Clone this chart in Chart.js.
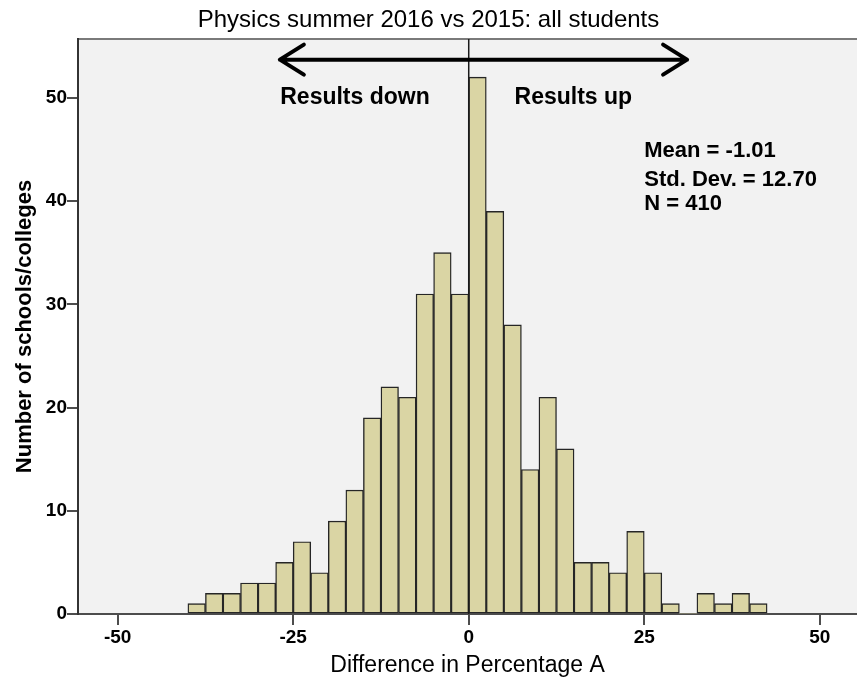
<!DOCTYPE html>
<html>
<head>
<meta charset="utf-8">
<title>Physics summer 2016 vs 2015</title>
<script src="https://cdn.jsdelivr.net/npm/chart.js@4/dist/chart.umd.min.js"></script>
<style>
    html, body { margin: 0; padding: 0; background: #ffffff; }
    #wrap { width: 857px; height: 687px; position: relative; }
</style>
</head>
<body>
<div id="wrap"><canvas id="hist"></canvas></div>
<script>
// histogram bins (left edge of each 2.5 wide bin) and counts
const BIN_WIDTH = 2.5;
const binStarts = [-40, -37.5, -35, -32.5, -30, -27.5, -25, -22.5, -20, -17.5, -15, -12.5, -10, -7.5, -5, -2.5,
    0, 2.5, 5, 7.5, 10, 12.5, 15, 17.5, 20, 22.5, 25, 27.5, 30, 32.5, 35, 37.5, 40];
const counts = [1, 2, 2, 3, 3, 5, 7, 4, 9, 12, 19, 22, 21, 31, 35, 31,
    52, 39, 28, 14, 21, 16, 5, 5, 4, 8, 4, 1, 0, 2, 1, 2, 1];

const xTicks = [-50, -25, 0, 25, 50];
const yTicks = [0, 10, 20, 30, 40, 50];

const statsLines = ["Mean = -1.01", "Std. Dev. = 12.70", "N = 410"];

const FONT = "'Liberation Sans', Arial, Helvetica, sans-serif";

document.addEventListener("DOMContentLoaded", () => {
    const canvas = document.getElementById("hist");

    const points = binStarts.map((start, i) => ({ x: start + BIN_WIDTH / 2, y: counts[i] }));

    // grey plot background + top frame line
    const plotBackground = {
        id: "plotBackground",
        beforeDraw(chart) {
            const { ctx, chartArea: a } = chart;
            ctx.save();
            ctx.fillStyle = "#f2f2f2";
            ctx.fillRect(a.left, a.top, a.right - a.left, a.bottom - a.top);
            ctx.strokeStyle = "#7a7a7a";
            ctx.lineWidth = 2;
            ctx.beginPath();
            ctx.moveTo(a.left, a.top);
            ctx.lineTo(a.right, a.top);
            ctx.stroke();
            ctx.restore();
        }
    };

    // zero line, arrow and text notes
    const notes = {
        id: "notes",
        afterDatasetsDraw(chart) {
            const { ctx, chartArea: a, scales: { x, y } } = chart;
            ctx.save();

            const x0 = x.getPixelForValue(0);
            ctx.strokeStyle = "#1a1a1a";
            ctx.lineWidth = 1.5;
            ctx.beginPath();
            ctx.moveTo(x0, a.top);
            ctx.lineTo(x0, a.bottom);
            ctx.stroke();

            // double headed arrow
            const ay = y.getPixelForValue(53.7);
            const xl = x.getPixelForValue(-26.9);
            const xr = x.getPixelForValue(31.1);
            ctx.strokeStyle = "#000";
            ctx.lineWidth = 4;
            ctx.lineCap = "round";
            ctx.lineJoin = "round";
            ctx.beginPath();
            ctx.moveTo(xl, ay);
            ctx.lineTo(xr, ay);
            ctx.moveTo(xl + 24, ay - 15);
            ctx.lineTo(xl, ay);
            ctx.lineTo(xl + 24, ay + 15);
            ctx.moveTo(xr - 24, ay - 15);
            ctx.lineTo(xr, ay);
            ctx.lineTo(xr - 24, ay + 15);
            ctx.stroke();

            ctx.fillStyle = "#000";
            ctx.font = `bold 23px ${FONT}`;
            ctx.textAlign = "center";
            ctx.textBaseline = "middle";
            ctx.fillText("Results down", x.getPixelForValue(-16.2), y.getPixelForValue(50));
            ctx.fillText("Results up", x.getPixelForValue(14.9), y.getPixelForValue(50));

            ctx.font = `bold 22px ${FONT}`;
            ctx.textAlign = "left";
            const statY = [44.86, 42.05, 39.68];
            statsLines.forEach((line, i) => {
                ctx.fillText(line, x.getPixelForValue(25), y.getPixelForValue(statY[i]));
            });

            ctx.restore();
        }
    };

    new Chart(canvas, {
        type: "bar",
        data: {
            datasets: [{
                label: "Number of schools/colleges",
                data: points,
                backgroundColor: "#dad5a4",
                borderColor: "#262626",
                borderWidth: ctx => (ctx.raw && ctx.raw.y ? 1.4 : 0),
                borderSkipped: false,
                barPercentage: 1,
                categoryPercentage: 1
            }]
        },
        options: {
            responsive: true,
            maintainAspectRatio: false,
            animation: false,
            layout: { padding: { top: 0, right: 0, bottom: 0, left: 0 } },
            plugins: {
                legend: { display: false },
                tooltip: { enabled: false },
                title: {
                    display: true,
                    text: "Physics summer 2016 vs 2015: all students",
                    color: "#000",
                    font: { family: FONT, size: 24, weight: "normal" },
                    padding: { top: 6, bottom: 4.2 }
                }
            },
            scales: {
                x: {
                    type: "linear",
                    offset: false,
                    min: -55.65,
                    max: 55.3,
                    afterBuildTicks: scale => { scale.ticks = xTicks.map(v => ({ value: v })); },
                    afterFit: scale => { scale.height = 73; },
                    grid: { display: true, offset: false, drawOnChartArea: false, drawTicks: true, tickLength: 11, color: "#4d4d4d", lineWidth: 2 },
                    border: { display: true, color: "#4d4d4d", width: 2 },
                    ticks: {
                        color: "#000",
                        padding: 1,
                        maxRotation: 0,
                        autoSkip: false,
                        font: { family: FONT, size: 19, weight: "bold" },
                        callback: v => String(v)
                    },
                    title: {
                        display: true,
                        text: "Difference in Percentage A",
                        color: "#000",
                        font: { family: FONT, size: 23, weight: "normal" },
                        padding: { top: 0, bottom: 8 }
                    }
                },
                y: {
                    min: 0,
                    max: 55.7,
                    afterBuildTicks: scale => { scale.ticks = yTicks.map(v => ({ value: v })); },
                    afterFit: scale => { scale.width = 78; },
                    grid: { display: true, drawOnChartArea: false, drawTicks: true, tickLength: 11, color: "#4d4d4d", lineWidth: 2 },
                    border: { display: true, color: "#333333", width: 2 },
                    ticks: {
                        color: "#000",
                        padding: 0,
                        font: { family: FONT, size: 19, weight: "bold" },
                        callback: v => String(v)
                    },
                    title: {
                        display: true,
                        text: "Number of schools/colleges",
                        color: "#000",
                        font: { family: FONT, size: 22, weight: "bold" },
                        padding: { top: 12, bottom: 0 }
                    }
                }
            }
        },
        plugins: [plotBackground, notes]
    });
});
</script>
</body>
</html>
